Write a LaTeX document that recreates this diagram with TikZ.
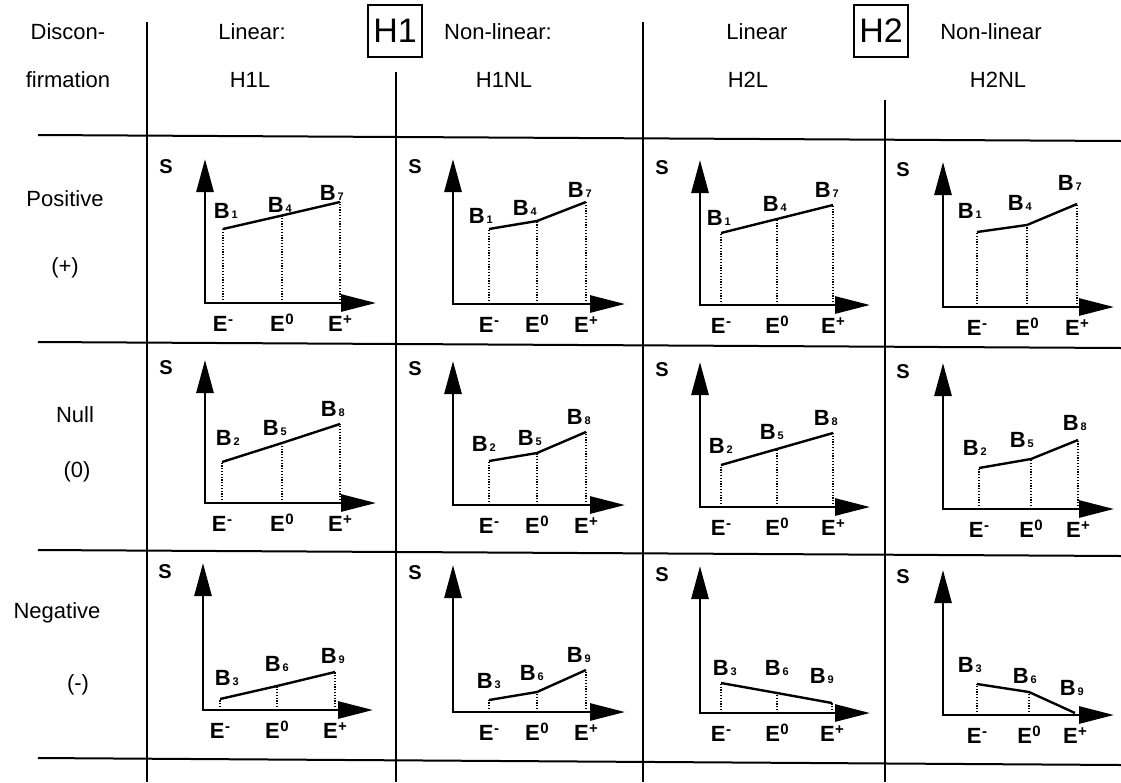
\documentclass[tikz,border=0pt]{standalone}
\usepackage{fontspec}
\setmainfont{Liberation Sans}
\usetikzlibrary{arrows.meta}
\newcommand\Bsub[1]{B\kern2pt\raisebox{0pt}{\fontsize{11}{11}\selectfont #1}}
\newcommand\Esup[1]{E\kern0.5pt\raisebox{6.5pt}{\fontsize{15}{15}\selectfont #1}}
\tikzset{
  grid/.style={line width=2pt},
  axis/.style={line width=2.8pt, line join=miter,
    {Triangle[length=33pt,width=17pt]}-{Triangle[length=35pt,width=17pt]}},
  curve/.style={line width=2.4pt, line join=round},
  dots/.style={line width=1.1pt, dash pattern=on 1.2pt off 1.6pt},
  lab/.style={font=\fontsize{22}{22}\selectfont, inner sep=0pt},
  blab/.style={font=\fontsize{22}{22}\selectfont\bfseries, inner sep=0pt, anchor=base east},
  elab/.style={font=\fontsize{22}{22}\selectfont\bfseries, inner sep=0pt, anchor=base},
  slab/.style={font=\fontsize{20}{20}\selectfont\bfseries, inner sep=0pt},
  hbox/.style={draw, line width=1.5pt, minimum width=54pt, minimum height=52pt,
    font=\fontsize{34}{34}\selectfont, inner sep=0pt}
}
% #1 name, #2 y-axis x, #3 x-axis y, #4 y tip, #5 x tip, #6 S x, #7 S y, #8 points
\newcommand\cellplot[8]{%
  \node[slab] (#1S) at (#6,#7) {S};
  \coordinate (#1o) at (#2,#3);
  \coordinate (#1y) at (#2,#4);
  \coordinate (#1x) at (#5,#3);
  \foreach \tx/\hh/\nn/\dx/\dy [count=\ii] in {#8} {
    \coordinate (#1p\ii) at (\tx,#3-\hh);
    \coordinate (#1b\ii) at (\tx,#3);
    \draw[dots] (#1b\ii) -- (#1p\ii);
    \node[blab] (#1B\ii) at (\tx+\dx,#3-\hh-\dy) {\Bsub{\nn}};
  }
  \draw[curve] (#1p1) -- (#1p2) -- (#1p3);
  \draw[axis] (#1y) -- (#1o) -- (#1x);
  \node[elab] (#1E1) at ([yshift=-28pt]#1b1) {\Esup{-}};
  \node[elab] (#1E2) at ([yshift=-28pt]#1b2) {\Esup{0}};
  \node[elab] (#1E3) at ([yshift=-28pt]#1b3) {\Esup{+}};
}
\begin{document}
\begin{tikzpicture}[x=1pt,y=-1pt]
\useasboundingbox (0,0) rectangle (1121,782);
\fill[white] (0,0) rectangle (1121,782);
% grid
\draw[grid] (38,135) -- (1121,141);
\draw[grid] (38,342) -- (1121,348);
\draw[grid] (38,550) -- (1121,556);
\draw[grid] (38,758) -- (1121,765);
\draw[grid] (147,22) -- (147,782);
\draw[grid] (396,72) -- (396,782);
\draw[grid] (643,22) -- (643,782);
\draw[grid] (885,100) -- (885,782);
% header
\node[lab] (hd1) at (68,32) {Discon-};
\node[lab] (hd2) at (68,80) {firmation};
\node[lab] (hl1) at (252,32) {Linear:};
\node[lab] (hl1b) at (250,80) {H1L};
\node[hbox] (hH1) at (395,31) {H1};
\node[lab] (hn1) at (498,32) {Non-linear:};
\node[lab] (hn1b) at (504,80) {H1NL};
\node[lab] (hl2) at (757,32) {Linear};
\node[lab] (hl2b) at (748,80) {H2L};
\node[hbox] (hH2) at (881,31) {H2};
\node[lab] (hn2) at (991,32) {Non-linear};
\node[lab] (hn2b) at (998,80) {H2NL};
% row labels
\node[lab] (rp1) at (65,199) {Positive};
\node[lab] (rp2) at (65,268) {(+)};
\node[lab] (rn1) at (75,415) {Null};
\node[lab] (rn2) at (77,472) {(0)};
\node[lab] (rg1) at (57,613) {Negative};
\node[lab] (rg2) at (78,685) {(-)};
% row 1
\cellplot{a}{205}{303}{159}{376}{166}{167}{223/74/1/15/11, 282/87.5/4/10/3, 340/101/7/4/2}
\cellplot{b}{453}{304}{159}{625}{415}{167}{489/75/1/4/6, 537/83/4/0/6, 586/102/7/6/5}
\cellplot{c}{700}{305}{160}{870}{662}{168}{721/72/1/10/8, 777/86/4/10/8, 833/100/7/6/8}
\cellplot{d}{943}{307}{162}{1114}{903}{170}{977/75/1/5/14, 1027/82/4/5/15, 1077/103/7/5/14}
% row 2
\cellplot{e}{205}{503}{360}{376}{166}{368}{222/41/2/18/17, 282/60/5/5/8, 340/79/8/5/8}
\cellplot{f}{453}{505}{361}{625}{415}{369}{489/44/2/7/10, 537/52/5/5/8, 586/73/8/5/8}
\cellplot{g}{700}{507}{362}{870}{662}{370}{721/42/2/12/12, 777/58/5/7/10, 833/74/8/5/8}
\cellplot{h}{943}{509}{363}{1114}{903}{372}{979/41/2/8/13, 1031/50/5/3/12, 1078/69/8/9/10}
% row 3
\cellplot{i}{203}{710}{563}{373}{165}{572}{220/11/3/19/14, 277/24/6/12/15, 335/38/9/10/9}
\cellplot{j}{453}{712}{565}{625}{415}{573}{489/12/3/12/12, 537/20/6/7/12, 586/42/9/5/8}
\cellplot{k}{700}{713}{566}{870}{662}{575}{721/30/3/16/8, 777/20/6/12/18, 832/10/9/2/20}
\cellplot{l}{943}{715}{570}{1114}{903}{577}{977/31/3/5/12, 1029/23/6/8/9, 1075/2/9/9/18}
\end{tikzpicture}
\end{document}
